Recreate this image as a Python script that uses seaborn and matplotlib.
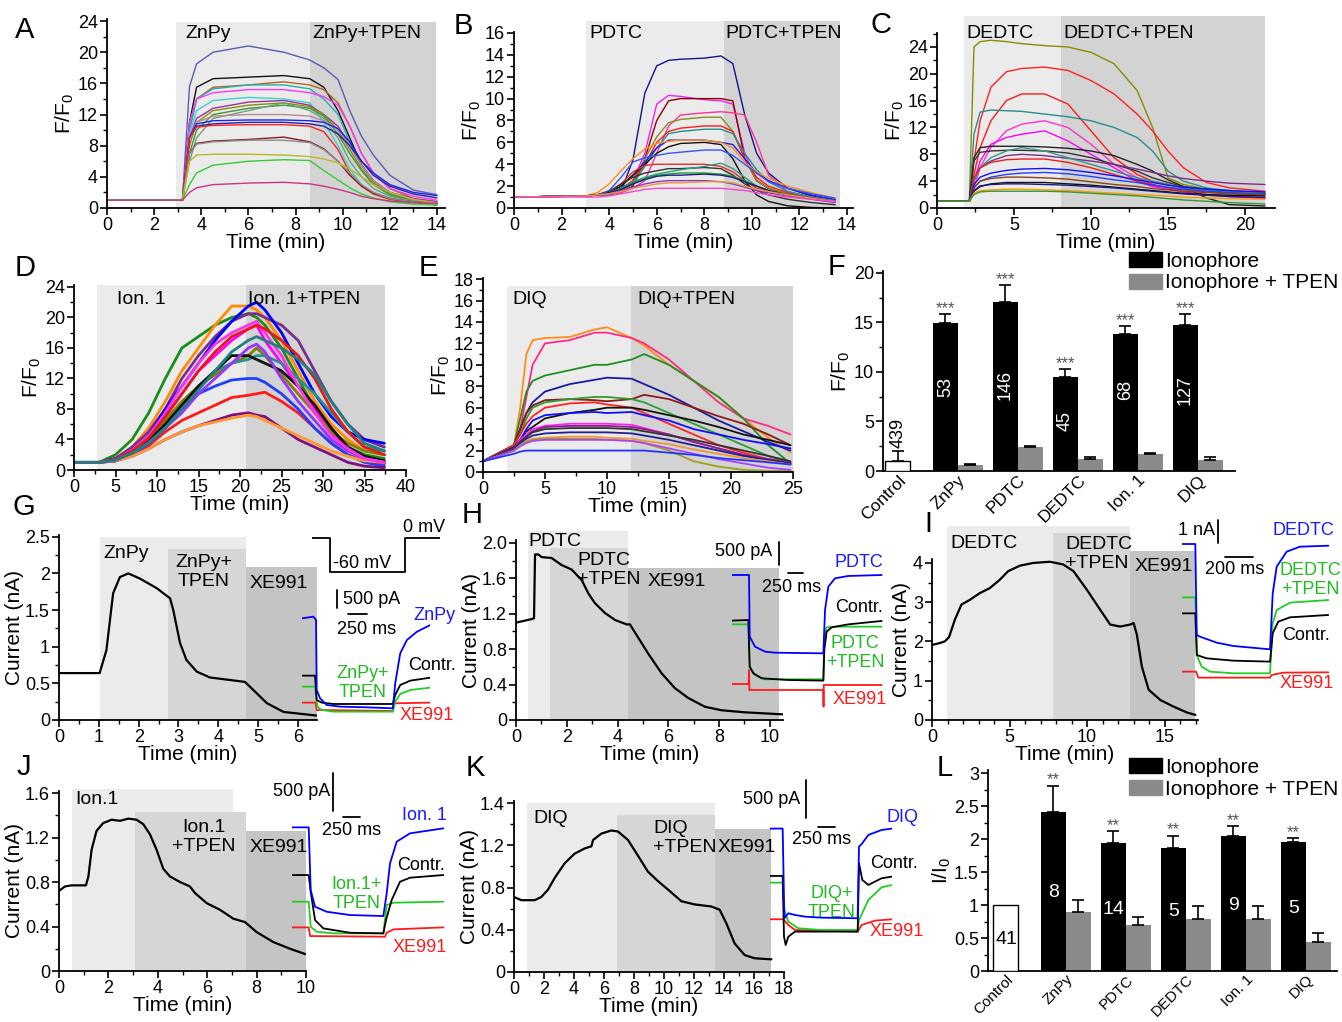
import matplotlib
matplotlib.use("Agg")
import matplotlib.pyplot as plt
from matplotlib.ticker import MultipleLocator, FormatStrFormatter
from matplotlib.patches import Patch
import numpy as np
import pandas as pd
import seaborn as sns

# ======================= DATA =======================
# ---- Panel A (ZnPy) : F/F0 traces, min ----
A_time = [0, 3.2, 3.5, 3.8, 4.5, 6, 7.5, 8.6, 9.2, 9.8, 10.3, 10.8, 11.3, 12, 13, 14]
A_colors = ['#5b5bb5', '#111111', '#b5651d', '#26b0b0', '#ff33ff', '#3dd0d0', '#993399', '#8c8c10',
            '#3a9a3a', '#6fa07a', '#bb8a8a', '#1f1fff', '#24249a', '#ff2020', '#8b1a1a', '#8c8c8c',
            '#b8b828', '#33cc33', '#cc3388']
A_traces = [
    [1, 1, 15.6, 18.5, 20, 20.8, 20.0, 19.0, 18.0, 16.5, 12.5, 9.2, 6.8, 4.2, 2.3, 1.7],
    [1, 1, 11, 15.5, 16.6, 16.8, 17.0, 16.6, 15.5, 12.5, 9, 5.5, 3.5, 1.8, 0.8, 0.4],
    [1, 1, 10, 14, 15.5, 15.8, 16.2, 15.8, 15.2, 13.5, 10.5, 7, 4.5, 2.5, 1.2, 0.8],
    [1, 1, 10, 14, 15.3, 15.8, 15.8, 15.3, 14, 12, 8.5, 5.5, 3.5, 2.0, 1.0, 0.6],
    [1, 1, 11, 14, 14.8, 15.2, 15.2, 14.8, 14.3, 13.2, 10.5, 7, 4.5, 2.5, 1.5, 1.0],
    [1, 1, 9.5, 12.5, 13.8, 14.2, 14.0, 13.5, 11, 8, 5, 3, 2, 1.3, 0.8, 0.5],
    [1, 1, 9, 11.5, 12.8, 13.6, 13.8, 13.2, 12, 10.5, 8, 5.5, 3.5, 2, 1.2, 0.8],
    [1, 1, 8, 11, 12.5, 13.2, 13.5, 13.0, 12, 10, 7.5, 5, 3.2, 1.8, 1.0, 0.6],
    [1, 1, 7, 10, 12, 12.8, 13.2, 12.8, 11.8, 9.5, 7, 4.8, 3, 1.7, 1.0, 0.6],
    [1, 1, 6, 9, 11.5, 12.5, 13.5, 12.5, 11.5, 9, 6, 4, 2.5, 1.5, 0.9, 0.5],
    [1, 1, 9, 11, 11.8, 12, 12, 11.8, 11.2, 10, 8, 5.5, 3.5, 2, 1.1, 0.7],
    [1, 1, 9, 10.8, 11.2, 11.3, 11.3, 11.2, 11, 10.2, 8.5, 6, 4.5, 3, 2.0, 1.6],
    [1, 1, 9, 10.5, 10.8, 11, 11, 10.8, 10.5, 9.5, 8, 6, 4.2, 2.8, 1.8, 1.3],
    [1, 1, 9, 10.4, 10.6, 10.7, 10.7, 10.5, 9.8, 7.5, 4.5, 2.8, 1.8, 1.1, 0.7, 0.5],
    [1, 1, 7, 8.3, 8.6, 8.8, 9.1, 8.5, 7.6, 6.0, 4.2, 2.8, 1.9, 1.2, 0.8, 0.6],
    [1, 1, 7, 8.2, 8.5, 8.7, 8.7, 8.4, 7.5, 6, 4.5, 3, 2, 1.2, 0.8, 0.5],
    [1, 1, 6, 6.8, 6.9, 6.9, 6.8, 6.6, 6.3, 5.8, 5, 4, 3, 2, 1.1, 0.6],
    [1, 1, 3, 4.5, 5.5, 6.0, 6.2, 6.1, 4.8, 3.6, 2.6, 1.8, 1.3, 0.8, 0.5, 0.4],
    [1, 1, 2, 2.6, 3.0, 3.2, 3.3, 3.1, 2.8, 2.4, 2, 1.5, 1.2, 0.9, 0.7, 0.6],
]
A_periods = [2.91, 8.63, 13.97]

# ---- Panel B (PDTC) ----
B_time = [0, 3.0, 3.5, 4.0, 4.5, 5.0, 5.5, 6.0, 6.5, 7.0, 8.0, 8.7, 9.2, 9.7, 10.2, 10.7, 11.5, 12.5, 13.5]
B_colors = ['#14148c', '#ee22ee', '#8b0000', '#ff3399', '#8c8c1a', '#ff1a1a', '#1f9090', '#1a1aff',
            '#ff8c1a', '#111111', '#3355ff', '#e62e2e', '#333333', '#2a9d8f', '#22a022', '#1a1a8c',
            '#8833cc', '#ee9933', '#ff44cc']
B_traces = [
    [1.0, 1.1, 1.2, 1.2, 1.5, 4.4, 10.5, 13, 13.5, 13.6, 13.7, 13.9, 13.2, 8.5, 5, 3.2, 1.8, 1.1, 0.7],
    [1, 1.1, 1.2, 1.3, 1.5, 2.5, 5, 9.5, 10.3, 10.2, 9.9, 9.8, 9.5, 5, 2.5, 1.8, 1.2, 0.9, 0.7],
    [1, 1.1, 1.2, 1.3, 1.4, 2, 4.5, 8, 9.8, 10, 10, 10, 9.8, 4.5, 2.5, 1.8, 1.2, 0.9, 0.6],
    [1, 1.1, 1.2, 1.3, 1.4, 1.8, 2.5, 5, 7.5, 8.5, 8.7, 8.8, 8.7, 8.5, 6, 3, 1.5, 1.0, 0.6],
    [1, 1.1, 1.2, 1.3, 1.6, 2.5, 4.5, 6.5, 7.8, 8.1, 8.3, 8.3, 7, 4.5, 2.5, 1.8, 1.3, 0.9, 0.6],
    [1, 1.1, 1.2, 1.4, 1.8, 2.5, 4, 6, 7, 7.3, 7.5, 7.5, 7, 4.5, 2.8, 2, 1.4, 1, 0.7],
    [1, 1.1, 1.2, 1.3, 1.5, 2.2, 3.8, 5.5, 6.8, 7.0, 7.2, 7.2, 6.8, 5, 3.5, 2.4, 1.5, 1.0, 0.7],
    [1, 1.1, 1.2, 1.4, 2, 3, 4.2, 5.5, 6.2, 6.2, 6.2, 6.0, 5.8, 4.5, 3.2, 2.5, 1.8, 1.2, 0.8],
    [1, 1.1, 1.4, 2.2, 3.4, 4.5, 5.4, 5.9, 6.1, 6.2, 6.2, 6.0, 5.5, 4.2, 3.3, 2.7, 2.0, 1.4, 0.9],
    [1, 1.1, 1.2, 1.4, 2, 3, 4, 5, 5.6, 5.9, 6, 5.8, 4.5, 2.5, 1.2, 0.6, 0.2, 0.05, 0],
    [1, 1.1, 1.2, 1.6, 2.8, 4.2, 4.6, 4.8, 5.0, 5.1, 5.3, 5.3, 4.8, 4.0, 3.2, 2.4, 1.8, 1.3, 0.9],
    [1, 1.1, 1.2, 1.5, 2.2, 3.3, 3.9, 4.0, 4.0, 4.0, 4.0, 3.8, 3.3, 2.5, 1.8, 1.5, 1.2, 0.9, 0.6],
    [1, 1.1, 1.2, 1.5, 2.2, 2.8, 3.2, 3.4, 3.6, 3.6, 3.7, 3.6, 3.0, 2.2, 1.6, 1.2, 0.8, 0.5, 0.3],
    [1, 1.1, 1.2, 1.4, 1.8, 2.4, 2.8, 3.1, 3.3, 3.5, 3.8, 4.1, 3.6, 2.8, 2.0, 1.6, 1.2, 0.9, 0.6],
    [1, 1.1, 1.2, 1.4, 1.8, 2.3, 2.7, 3.0, 3.1, 3.2, 3.2, 3.1, 2.9, 2.5, 2.0, 1.6, 1.2, 0.9, 0.6],
    [1, 1.1, 1.2, 1.4, 1.7, 2.2, 2.6, 2.9, 3.0, 3.0, 3.1, 3.0, 2.8, 2.4, 2.0, 1.6, 1.2, 0.9, 0.6],
    [1, 1.1, 1.2, 1.3, 1.6, 1.9, 2.2, 2.4, 2.5, 2.5, 2.5, 2.4, 2.2, 1.9, 1.6, 1.4, 1.1, 0.8, 0.5],
    [1, 1.1, 1.2, 1.3, 1.5, 1.8, 2.0, 2.2, 2.3, 2.3, 2.4, 2.4, 2.3, 2.0, 1.7, 1.5, 1.2, 0.9, 0.6],
    [1, 1.0, 1.0, 1.1, 1.3, 1.5, 1.7, 1.8, 1.8, 1.8, 1.8, 1.8, 1.7, 1.6, 1.4, 1.2, 1.0, 0.8, 0.6],
]
B_periods = [3.03, 8.82, 13.7]

# ---- Panel C (DEDTC) ----
C_time = [0, 2.1, 2.4, 2.8, 3.5, 4.5, 5.5, 7, 8.5, 10, 11.5, 13, 14, 15, 16, 17.5, 19, 21.3]
C_colors = ['#8b8b00', '#ff2020', '#ff1a1a', '#2a8d8d', '#ff33cc', '#ff00ff', '#222222', '#333333',
            '#7b2d8b', '#339988', '#ee1c1c', '#1010ff', '#2040ff', '#8b4513', '#111111', '#1a1a80',
            '#ff9900', '#339933']
C_traces = [
    [1, 1, 24, 24.8, 25, 24.8, 24.5, 24.2, 24, 23.2, 21.5, 17.5, 12, 4.5, 3.5, 2.8, 2.4, 2.0],
    [1, 1, 7, 13, 18, 20.3, 20.8, 21, 20.5, 19, 17, 14, 11.5, 8.5, 6, 3.8, 3, 2.5],
    [1, 1, 5, 9, 13, 16, 17, 17, 15.5, 11.5, 7.5, 5, 4, 3.5, 3, 2.7, 2.4, 2.2],
    [1, 1, 11, 14.3, 14.6, 14.5, 14.4, 14, 13.6, 13, 12, 10.5, 8.5, 5.5, 4, 3, 2.6, 2.2],
    [1, 1, 3, 6, 9, 11.5, 12.5, 13, 12, 9.5, 6.5, 4.5, 3.5, 3, 2.5, 2, 1.8, 1.5],
    [1, 1, 4, 7, 9.5, 10.5, 11, 11.5, 10, 8, 6, 4, 3.2, 2.8, 2.4, 2, 1.7, 1.4],
    [1, 1, 7.5, 9, 9.2, 9.2, 9.2, 9.1, 8.9, 8.5, 7.8, 6.5, 5.5, 4.2, 3.2, 1.5, 0.5, 0.3],
    [1, 1, 7, 8.3, 8.5, 8.6, 8.6, 8.5, 8.2, 7.5, 6.5, 5.5, 4.5, 3.8, 3.2, 2.8, 2.5, 2.2],
    [1, 1, 4, 6, 7, 7.8, 8, 7.8, 7.4, 7, 6.5, 5.8, 5.3, 4.8, 4.4, 4, 3.7, 3.5],
    [1, 1, 4, 6, 7.5, 8.5, 9, 8.5, 7.5, 6.5, 5.5, 4.5, 4, 3.5, 3, 2.7, 2.4, 2.2],
    [1, 1, 4.5, 6, 6.8, 7.2, 7.3, 7.3, 6.8, 6, 5, 4, 3.5, 3, 2.7, 2.4, 2.2, 2.0],
    [1, 1, 3.5, 4.6, 5.2, 5.6, 5.8, 5.9, 5.7, 5.3, 4.8, 4.2, 3.8, 3.4, 3.1, 2.8, 2.6, 2.4],
    [1, 1, 3, 4, 4.6, 5, 5.2, 5.3, 5.1, 4.7, 4.2, 3.8, 3.4, 3.1, 2.8, 2.5, 2.3, 2.1],
    [1, 1, 3, 4, 4.4, 4.6, 4.6, 4.5, 4.3, 3.9, 3.5, 3.2, 2.9, 2.7, 2.5, 2.3, 2.1, 2.0],
    [1, 1, 2.5, 3.2, 3.6, 3.8, 3.8, 3.8, 3.6, 3.4, 3.1, 2.8, 2.6, 2.4, 2.2, 2.0, 1.9, 1.8],
    [1, 1, 2.6, 3.3, 3.5, 3.6, 3.6, 3.5, 3.4, 3.2, 3, 2.7, 2.5, 2.3, 2.1, 1.9, 1.7, 1.6],
    [1, 1, 2.2, 2.6, 2.7, 2.8, 2.8, 2.7, 2.6, 2.4, 2.2, 2, 1.9, 1.8, 1.6, 1.5, 1.4, 1.3],
    [1, 1, 2, 2.4, 2.5, 2.5, 2.5, 2.5, 2.4, 2.2, 2, 1.8, 1.6, 1.4, 1.2, 1, 0.8, 0.6],
]
C_periods = [1.73, 8.06, 21.3]

# ---- Panel D (Ion. 1) ----
D_time = [0, 3, 5, 7, 9, 11, 13, 15, 17, 19, 21, 22, 23, 25, 27, 29, 31, 33, 35, 37.4]
D_colors = ['#1a8c1a', '#ff8c00', '#7b2d8b', '#0000ff', '#ff00ff', '#808000', '#2a9090', '#111111',
            '#ff1a1a', '#1f3fff', '#801080', '#ff9933', '#9933ff', '#ff33ee', '#e61919', '#208080']
D_traces = [
    [1, 1, 2, 4, 7.5, 12, 16, 17.5, 19, 20, 20.5, 20, 19, 16, 12, 8, 5, 3, 2, 1.5],
    [1, 1, 1.5, 3, 5.5, 9, 13, 16, 19, 21.5, 21.5, 21, 20, 17, 13, 9, 6, 4, 2.5, 2],
    [1, 1, 1.5, 3, 5, 8, 12, 15, 17.5, 19.5, 20.5, 20.5, 20, 19, 17, 13, 9, 6, 4, 3],
    [1, 1, 1.5, 2.5, 4.5, 8, 11, 14, 17, 19.5, 21.5, 22, 21, 18, 14, 10, 7, 5, 4, 3.5],
    [1, 1, 1.3, 2.5, 4, 7, 10, 13, 15, 17, 18.5, 19, 17, 14, 11, 8, 5, 3, 1.5, 1],
    [1, 1, 1.3, 2.3, 4, 6.5, 9, 11, 12.5, 14, 15, 16, 15, 12.5, 10, 7.5, 5, 3.5, 2.5, 2],
    [1, 1, 1.3, 2.2, 3.8, 6, 8.5, 11, 13, 14, 14.5, 15, 15, 14, 12, 10, 7.5, 5, 3, 2.5],
    [1, 1, 1.3, 2.2, 3.8, 6, 8.5, 11, 13, 15, 15, 14.5, 14, 13, 11, 8.5, 5.5, 3, 1.8, 1.2],
    [1, 1, 1.2, 2, 3.2, 5, 6.5, 7.5, 8.5, 9.5, 9.8, 10, 10.2, 9, 7.5, 5.5, 3.5, 2, 1.2, 0.8],
    [1, 1, 1.2, 2, 3.5, 5.5, 8, 10, 11, 11.8, 12, 12, 11.5, 10, 8, 5.5, 3.5, 2, 1, 0.5],
    [1, 1, 1.2, 1.8, 2.8, 4, 5, 5.8, 6.5, 7.2, 7.5, 7.2, 7, 5.5, 4, 3, 2, 1, 0.5, 0.3],
    [1, 1, 1.2, 1.8, 2.8, 4, 5, 5.8, 6.3, 6.8, 7.2, 7, 6.5, 5.5, 4.5, 3.5, 2.5, 1.8, 1.2, 1],
    [1, 1, 1.3, 2.2, 3.6, 5.5, 7.5, 10, 12, 14, 16, 16.5, 15.5, 12, 9, 6.5, 4, 2.5, 1.5, 1],
    [1, 1, 1.4, 2.6, 4.5, 7.5, 11, 14, 16.5, 18, 19, 19.5, 18, 15, 11, 7.5, 4.5, 2.8, 1.5, 1],
    [1, 1, 1.4, 2.5, 4.2, 7, 10, 13, 15.5, 17.5, 18.5, 19, 18.5, 17, 15, 12, 8, 5, 3, 2],
    [1, 1, 1.3, 2.2, 3.6, 5.5, 8, 10.5, 13, 15.5, 17, 17.5, 17, 16, 14.5, 12.5, 9, 6, 3.5, 2.5],
]
D_periods = [2.8, 20.7, 37.5]

# ---- Panel E (DIQ) ----
E_time = [0, 2.5, 3, 3.5, 4, 5, 7, 9, 10, 12, 13, 15, 17, 19, 21, 23, 24.8]
E_colors = ['#ff8c1a', '#ff2a85', '#1f8f1f', '#1a1aa0', '#8b1a1a', '#2e9e2e', '#ff2222', '#111111',
            '#1010ff', '#ff22ff', '#882288', '#333333', '#202090', '#ee9933', '#a0a020', '#aa44ff',
            '#2233ff']
E_traces = [
    [1, 2.5, 6, 11, 12.3, 12.5, 12.6, 13.3, 13.5, 12.5, 11.8, 10, 8.5, 7, 5, 3.2, 1.8],
    [1, 2.5, 4, 7, 10, 12, 12.3, 13, 13, 12.5, 12, 10.5, 8.5, 6.5, 5, 4.3, 3.5],
    [1, 2.5, 5, 7.5, 8.5, 9, 9.5, 10, 10, 10.5, 11, 10, 8.5, 7, 5, 2.5, 0.8],
    [1, 2.5, 4, 5.5, 6.5, 7.5, 8.2, 8.6, 8.8, 8.7, 8.2, 7.2, 6, 4.8, 3.8, 2.8, 2],
    [1, 2.5, 4, 5.5, 6.2, 6.7, 6.8, 6.7, 6.6, 6.8, 7.2, 6.8, 6, 5.2, 4.5, 3.5, 2.5],
    [1, 2.5, 3.5, 5, 6, 6.5, 6.8, 7, 7, 6.8, 6.5, 5.5, 4.5, 3.5, 2.5, 1.5, 0.8],
    [1, 2.5, 3.5, 4.5, 5.2, 6, 6.4, 6.5, 6.3, 6.0, 5.5, 4.5, 3.5, 2.5, 1.8, 1.2, 0.8],
    [1, 2.3, 3, 3.8, 4.2, 5, 5.5, 5.8, 6, 6, 5.8, 5.3, 4.8, 4.2, 3.5, 3, 2.5],
    [1, 2.3, 3, 4, 4.8, 5.3, 5.5, 5.6, 5.5, 5.6, 5.3, 4.8, 4, 3.5, 3, 2.6, 2.2],
    [1, 2.2, 3, 3.5, 4, 4.3, 4.5, 4.5, 4.5, 4.4, 4.1, 3.5, 2.8, 2.2, 1.6, 1.2, 0.8],
    [1, 2.2, 2.8, 3.3, 3.8, 4.2, 4.3, 4.3, 4.3, 4.2, 4.0, 3.5, 2.8, 2.2, 1.6, 1.2, 0.9],
    [1, 2.2, 2.8, 3.3, 3.7, 4, 4.1, 4.1, 4.1, 4, 3.8, 3.4, 3, 2.5, 2, 1.5, 1.0],
    [1, 2, 2.6, 3.1, 3.4, 3.6, 3.7, 3.7, 3.7, 3.6, 3.4, 3.0, 2.5, 2.0, 1.5, 1.1, 0.8],
    [1, 2, 2.5, 2.9, 3.1, 3.2, 3.3, 3.3, 3.2, 3.1, 2.9, 2.6, 2.1, 1.7, 1.3, 1.0, 0.7],
    [1, 2, 2.5, 2.8, 3, 3.1, 3.1, 3.1, 3.0, 2.9, 2.7, 2.0, 1.0, 0.5, 0.2, 0.1, 0.1],
    [1, 2, 2.4, 2.7, 2.9, 3.0, 3.0, 3.0, 3.0, 2.9, 2.7, 2.2, 1.7, 1.2, 0.8, 0.4, 0.2],
    [1, 1.7, 1.9, 2.0, 2.0, 2.0, 2.0, 2.0, 2.0, 2.0, 2.0, 1.8, 1.6, 1.3, 1.1, 0.9, 0.7],
]
E_periods = [1.97, 11.94, 25.0]

# ---- Panel F : F/F0 summary ----
bar_groups = ['ZnPy', 'PDTC', 'DEDTC', 'Ion. 1', 'DIQ']
F_iono = [14.93, 17.1, 9.53, 13.8, 14.76]
F_iono_err = [0.97, 1.7, 0.81, 0.8, 1.12]
F_tpen = [0.57, 2.4, 1.25, 1.72, 1.15]
F_tpen_err = [0.11, 0.13, 0.2, 0.14, 0.3]
F_control, F_control_err = 1.01, 1.02
F_n = ['53', '146', '45', '68', '127']
F_control_n = '439'

# ---- Panel L : I/I0 summary ----
L_iono = [2.41, 1.94, 1.87, 2.05, 1.95]
L_iono_err = [0.40, 0.18, 0.18, 0.14, 0.06]
L_tpen = [0.89, 0.69, 0.79, 0.79, 0.44]
L_tpen_err = [0.18, 0.13, 0.19, 0.20, 0.14]
L_control = 1.0
L_n = ['8', '14', '5', '9', '5']
L_control_n = '41'

# ---- Panels G-K : whole-cell current (nA) vs time (min) ----
G_time = [0, 1.02, 1.19, 1.36, 1.53, 1.74, 2.03, 2.45, 2.79, 2.87, 3.04, 3.2, 3.46, 3.79, 4.38, 4.67,
          4.88, 5.22, 5.64, 6.48]
G_curr = [0.64, 0.64, 0.95, 1.73, 1.95, 2.0, 1.93, 1.80, 1.66, 1.5, 1.05, 0.82, 0.66, 0.58, 0.54, 0.52,
          0.41, 0.23, 0.11, 0.06]
G_periods = [(1.03, 4.70, 2.5), (2.74, 4.70, 2.33), (4.70, 6.48, 2.09)]

H_time = [0, 0.62, 0.71, 0.75, 0.88, 1.01, 1.40, 1.80, 2.19, 2.59, 2.85, 3.11, 3.50, 3.90, 4.36, 4.49,
          4.75, 5.21, 5.73, 6.26, 6.78, 7.44, 8.1, 9.0, 10.5]
H_curr = [1.10, 1.14, 1.15, 1.87, 1.87, 1.84, 1.83, 1.75, 1.70, 1.58, 1.43, 1.32, 1.21, 1.13, 1.08, 1.08,
          0.96, 0.75, 0.53, 0.36, 0.25, 0.15, 0.11, 0.087, 0.064]
H_periods = [(0.46, 4.42, 2.14), (1.34, 4.42, 1.94), (4.42, 10.35, 1.72)]

I_time = [0, 0.5, 0.82, 1.1, 1.47, 1.9, 2.44, 3.08, 3.73, 4.37, 4.91, 5.67, 6.53, 7.61, 8.47, 9.12,
          9.98, 10.84, 11.49, 12.13, 12.78, 13.0, 13.21, 13.53, 13.97, 14.72, 15.58, 16.44, 16.98]
I_curr = [1.91, 1.96, 2.0, 2.11, 2.55, 2.94, 3.06, 3.23, 3.36, 3.57, 3.79, 3.93, 4.0, 4.03, 3.96, 3.79,
          3.32, 2.81, 2.43, 2.38, 2.43, 2.47, 2.17, 1.36, 0.77, 0.51, 0.34, 0.19, 0.13]
I_periods = [(0.99, 12.78, 4.94), (7.82, 12.78, 4.75), (12.78, 16.98, 4.30)]

J_time = [0, 0.24, 0.51, 0.85, 1.09, 1.19, 1.32, 1.52, 1.79, 2.13, 2.47, 2.81, 3.14, 3.41, 3.68, 3.95,
          4.22, 4.49, 4.90, 5.30, 5.51, 5.98, 6.52, 7.06, 7.53, 8.0, 8.68, 9.35, 10.0]
J_curr = [0.72, 0.76, 0.77, 0.77, 0.77, 0.85, 1.09, 1.26, 1.33, 1.36, 1.35, 1.37, 1.36, 1.32, 1.23, 1.09,
          0.92, 0.85, 0.80, 0.76, 0.70, 0.61, 0.55, 0.47, 0.44, 0.35, 0.26, 0.20, 0.15]
J_periods = [(0.54, 7.06, 1.64), (3.08, 7.57, 1.43), (7.57, 10.0, 1.26)]

K_time = [0, 0.49, 1.38, 1.82, 2.27, 2.71, 3.38, 4.04, 4.71, 5.16, 5.27, 5.82, 6.49, 6.93, 7.6, 8.27,
          8.93, 9.6, 10.27, 11.16, 12.04, 13.16, 13.71, 14.16, 14.71, 15.38, 16.04, 17.16]
K_curr = [0.71, 0.68, 0.68, 0.71, 0.78, 0.89, 1.03, 1.12, 1.17, 1.19, 1.25, 1.31, 1.34, 1.33, 1.25, 1.10,
          0.95, 0.86, 0.78, 0.67, 0.64, 0.62, 0.59, 0.46, 0.27, 0.16, 0.13, 0.12]
K_periods = [(0.89, 13.38, 1.60), (6.87, 13.38, 1.49), (13.38, 17.16, 1.35)]

# ---- Insets: current responses to a -60 mV step, (ms, pA) points ----
G_ZnPy = [(-195, 2163), (-36, 2209), (0, 2118), (9, 209), (55, -18), (145, -200), (327, -245), (691, -264),
          (1045, -291), (1077, 391), (1145, 1209), (1236, 1573), (1373, 1800), (1555, 1982)]
G_Contr = [(-195, 600), (-14, 600), (9, -64), (77, -136), (236, -173), (1045, -173), (1077, 73),
           (1145, 345), (1282, 464), (1555, 545)]
G_TPEN = [(-195, 300), (-14, 300), (18, -245), (77, -336), (236, -382), (1045, -382), (1077, -109),
          (1145, 100), (1282, 209), (1555, 273)]
G_XE991 = [(-195, -136), (-5, -136), (9, -336), (1045, -364), (1064, -155), (1555, -136)]
G_proto_ms = [-250, 0, 0, 1020, 1020, 1500]
G_proto_mV = [0, 0, -60, -60, 0, 0]

H_PDTC = [(-289, 2078), (0, 2078), (11, 757), (100, 543), (267, 436), (434, 414), (1240, 400), (1268, 1328),
          (1323, 1828), (1434, 2007), (1657, 2057), (2213, 2078)]
H_Contr = [(-289, 1100), (-11, 1114), (11, 115), (72, -28), (211, -135), (656, -171), (1240, -185),
           (1256, 472), (1295, 864), (1379, 957), (1657, 1021), (2213, 1093)]
H_TPEN = [(-289, 1021), (-11, 1021), (11, 115), (100, -64), (267, -157), (1240, -157), (1256, 757),
          (1295, 957), (1434, 971), (2213, 971)]
H_XE991 = [(-289, -257), (-6, -257), (0, 43), (6, -385), (1240, -385), (1243, -742), (1246, -278),
           (2213, -278)]

I_DEDTC = [(-101, 5672), (-5, 5672), (5, 1771), (28, 1700), (146, 1443), (263, 1300), (522, 1157),
           (541, 3557), (569, 4700), (639, 5343), (733, 5557), (933, 5600)]
I_Contr = [(-101, 2700), (-5, 2700), (5, 914), (75, 771), (263, 671), (522, 629), (541, 1843), (580, 2343),
           (663, 2529), (933, 2629)]
I_TPEN = [(-101, 3386), (-5, 3386), (9, 843), (40, 414), (99, 200), (263, 129), (522, 129), (541, 2271),
          (569, 2843), (663, 3157), (933, 3271)]
I_XE991 = [(-101, 200), (0, 200), (16, -57), (522, -57), (533, 57), (616, 157), (933, 171)]

J_Ion1 = [(-265, 1492), (-10, 1492), (20, 674), (85, 457), (260, 391), (610, 348), (1110, 335), (1160, 631),
          (1210, 1022), (1310, 1305), (1510, 1414), (2010, 1479)]
J_Contr = [(-265, 870), (-10, 870), (20, 652), (85, 283), (210, 174), (610, 117), (1110, 109), (1150, 283),
           (1235, 544), (1360, 783), (1510, 835), (2010, 870)]
J_TPEN = [(-265, 522), (-10, 522), (20, 196), (110, 130), (360, 109), (1110, 109), (1160, 478),
          (1260, 509), (2010, 522)]
J_XE991 = [(-265, 187), (-10, 187), (10, 74), (1135, 65), (1160, 117), (1260, 161), (2010, 187)]

K_DIQ = [(-200, 1528), (-10, 1528), (15, 358), (75, 423), (175, 401), (325, 379), (575, 366), (1115, 358),
         (1135, 1293), (1175, 1326), (1275, 1445), (1475, 1510), (1630, 1528)]
K_Contr = [(-200, 910), (-10, 910), (10, 118), (35, 9), (75, 118), (175, 184), (1115, 184), (1135, 1075),
           (1185, 858), (1275, 793), (1475, 880), (1630, 901)]
K_TPEN = [(-200, 823), (-10, 823), (15, 466), (75, 314), (225, 227), (575, 205), (1115, 205), (1135, 336),
          (1275, 597), (1475, 762), (1630, 792)]
K_XE991 = [(-200, 345), (0, 345), (75, 271), (175, 205), (1115, 184), (1175, 271), (1375, 327), (1630, 345)]

# ======================= STYLE / LAYOUT =======================
sns.set_theme(style="ticks", rc={"axes.edgecolor": "black", "xtick.color": "black",
                                 "ytick.color": "black", "text.color": "black",
                                 "axes.labelcolor": "black"})
plt.rcParams['font.family'] = ['Liberation Sans', 'DejaVu Sans']
plt.rcParams['mathtext.fontset'] = 'custom'
plt.rcParams['mathtext.rm'] = 'Liberation Sans'
plt.rcParams['mathtext.it'] = 'Liberation Sans:italic'
plt.rcParams['mathtext.bf'] = 'Liberation Sans:bold'
plt.rcParams['axes.unicode_minus'] = False

W, H = 1342, 1022
fig = plt.figure(figsize=(W / 100, H / 100), dpi=100)
fig.patch.set_facecolor('white')

LIGHT, MID, DARK = '#ebebeb', '#d6d6d6', '#c4c4c4'
BLUE, GREEN, RED = '#1a1aff', '#22bb22', '#ff1a1a'
FFLABEL = r'F/F$_\mathregular{0}$'


def px_axes(x0, x1, ytop, ybot, z=1):
    ax = fig.add_axes([x0 / W, 1 - ybot / H, (x1 - x0) / W, (ybot - ytop) / H], zorder=z)
    ax.patch.set_alpha(0)
    return ax


def ftext(x, y, s, **kw):
    kw.setdefault('ha', 'left')
    kw.setdefault('va', 'center')
    kw.setdefault('fontsize', 14)
    fig.text(x / W, 1 - y / H, s, **kw)


def trace(ax, t, v, color, lw):
    sns.lineplot(x=list(t), y=list(v), color=color, linewidth=lw, ax=ax,
                 estimator=None, sort=False, legend=False)


def style_axes(ax, xlim, ylim, xmaj, xmin, ymaj, ymin, xlabel, ylabel):
    ax.set_xlim(*xlim)
    ax.set_ylim(*ylim)
    for s in ['top', 'right']:
        ax.spines[s].set_visible(False)
    for s in ['left', 'bottom']:
        ax.spines[s].set_linewidth(1.3)
    if xmaj:
        ax.xaxis.set_major_locator(MultipleLocator(xmaj))
        ax.xaxis.set_minor_locator(MultipleLocator(xmin))
        ax.xaxis.set_major_formatter(FormatStrFormatter('%g'))
    ax.yaxis.set_major_locator(MultipleLocator(ymaj))
    ax.yaxis.set_minor_locator(MultipleLocator(ymin))
    ax.yaxis.set_major_formatter(FormatStrFormatter('%g'))
    ax.tick_params(which='major', direction='out', length=5, width=1.2, labelsize=13, pad=1.5)
    ax.tick_params(which='minor', direction='out', length=3, width=1.0)
    ax.set_xlabel(xlabel, fontsize=15, labelpad=-1)
    ax.set_ylabel(ylabel, fontsize=15, labelpad=1)


def shade(ax, x0, x1, top, color):
    ax.fill_between([x0, x1], [0, 0], [top, top], color=color, lw=0, zorder=0, clip_on=False)


# ---------- fluorescence panels A-E ----------
def fluo_panel(rect, time, traces, colors, periods, top, lw, xlim, ylim, xt, yt, labels):
    ax = px_axes(*rect)
    shade(ax, periods[0], periods[1], top, LIGHT)
    shade(ax, periods[1], periods[2], top, '#d3d3d3')
    for vals, c in zip(traces, colors):
        trace(ax, time, vals, c, lw)
    style_axes(ax, xlim, ylim, xt[0], xt[1], yt[0], yt[1], 'Time (min)', FFLABEL)
    for (x, y, s) in labels:
        ftext(x, y, s)
    return ax


fluo_panel((107, 445, 19.5, 208), A_time, A_traces, A_colors, A_periods, 23.9, 1.0,
           (0, 14.34), (0, 24.2), (2, 1), (4, 2), [(185, 33, 'ZnPy'), (312, 33, 'ZnPy+TPEN')])
fluo_panel((514, 853, 31.9, 208), B_time, B_traces, B_colors, B_periods, 17.07, 1.0,
           (0, 14.25), (0, 16.1), (2, 1), (2, 1), [(589, 33, 'PDTC'), (725, 33, 'PDTC+TPEN')])
fluo_panel((937, 1275, 32.9, 208), C_time, C_traces, C_colors, C_periods, 28.6, 1.0,
           (0, 21.95), (0, 26.1), (5, 2.5), (4, 2), [(966, 33, 'DEDTC'), (1063, 33, 'DEDTC+TPEN')])
fluo_panel((74, 406, 284.7, 470), D_time, D_traces, D_colors, D_periods, 24.2, 2.0,
           (0, 40), (0, 24.3), (5, 2.5), (4, 2), [(117, 299, 'Ion. 1'), (248, 299, 'Ion. 1+TPEN')])
fluo_panel((483, 793, 278, 472), E_time, E_traces, E_colors, E_periods, 17.4, 1.3,
           (0, 25), (0, 18.1), (5, 2.5), (2, 1), [(512, 300, 'DIQ'), (637, 300, 'DIQ+TPEN')])


# ---------- bar panels F and L ----------
def bar_panel(rect, xlim, ylim, ymaj, ymin, iono, iono_err, tpen, tpen_err, ctrl, ctrl_err,
              ylabel, stars, star_off, n_labels, n_y, n_rot, n_size, ctrl_n, ctrl_n_y, ctrl_rot, legend_xy,
              xlab_size):
    ax = px_axes(*rect)
    df = pd.DataFrame({'cat': bar_groups * 2,
                       'cond': ['Ionophore'] * 5 + ['Ionophore + TPEN'] * 5,
                       'val': list(iono) + list(tpen)})
    order = ['Control'] + bar_groups
    sns.barplot(data=df, x='cat', y='val', hue='cond', order=order,
                hue_order=['Ionophore', 'Ionophore + TPEN'], palette=['black', '#8a8a8a'],
                width=0.834, gap=0, errorbar=None, legend=False, saturation=1, linewidth=0, ax=ax)
    ax.bar(0, ctrl, width=0.417, color='white', edgecolor='black', linewidth=1.0, zorder=3)
    pos = np.arange(1, 6)
    ax.errorbar(pos - 0.2085, iono, yerr=[np.zeros(5), iono_err], fmt='none', ecolor='black',
                elinewidth=1.2, capsize=4, capthick=1.2, zorder=4)
    ax.errorbar(pos + 0.2085, tpen, yerr=[np.zeros(5), tpen_err], fmt='none', ecolor='black',
                elinewidth=1.2, capsize=4, capthick=1.2, zorder=4)
    if ctrl_err:
        ax.errorbar([0], [ctrl], yerr=[[0], [ctrl_err]], fmt='none', ecolor='black',
                    elinewidth=1.2, capsize=4, capthick=1.2, zorder=4)
    for i in range(5):
        ax.text(pos[i] - 0.2085, iono[i] + iono_err[i] + star_off, stars, ha='center', va='center',
                fontsize=12, color='#555555')
        ax.text(pos[i] - 0.2085, n_y[i], n_labels[i], ha='center', va='center', color='white',
                fontsize=n_size, rotation=n_rot, zorder=5)
    ax.text(0, ctrl_n_y, ctrl_n, ha='center', va='center', color='black', fontsize=n_size,
            rotation=ctrl_rot, zorder=5)
    style_axes(ax, xlim, ylim, None, None, ymaj, ymin, '', ylabel)
    ax.set_xticks(range(6))
    ax.set_xticklabels(order, rotation=45, ha='right', rotation_mode='anchor', fontsize=xlab_size)
    ax.tick_params(axis='x', length=0, pad=1)
    handles = [Patch(facecolor='black', edgecolor='black'), Patch(facecolor='#8a8a8a', edgecolor='#8a8a8a')]
    ax.legend(handles, ['Ionophore', 'Ionophore + TPEN'], loc='upper left',
              bbox_to_anchor=(legend_xy[0] / W, 1 - legend_xy[1] / H), bbox_transform=fig.transFigure,
              frameon=False, fontsize=15, handlelength=1.6, handleheight=0.75, handletextpad=0.15,
              labelspacing=0.12, borderaxespad=0, borderpad=0)
    return ax


bar_panel((883, 1235, 271, 471), (-0.25, 5.62), (0, 20.2), 5, 2.5, F_iono, F_iono_err, F_tpen, F_tpen_err,
          F_control, F_control_err, FFLABEL, '***', 0.55, F_n, [8.5, 8.7, 5.1, 8.2, 8.2], 90, 13,
          F_control_n, 3.8, 90, (1129, 252), 12.5)
bar_panel((988, 1337, 769.7, 971), (-0.3, 5.52), (0, 3.05), 0.5, 0.25, L_iono, L_iono_err, L_tpen, L_tpen_err,
          L_control, None, r'I/I$_\mathregular{0}$', '**', 0.09, L_n, [1.19, 0.93, 0.90, 0.99, 0.95], 0, 14,
          L_control_n, 0.47, 0, (1129, 758), 11)


# ---------- current panels G-K ----------
def current_panel(rect, time, curr, periods, xlim, ylim, xt, yt, yticklabels, labels):
    ax = px_axes(*rect)
    for (x0, x1, top), c in zip(periods, [LIGHT, MID, DARK]):
        shade(ax, x0, x1, top, c)
    trace(ax, time, curr, 'black', 1.6)
    style_axes(ax, xlim, ylim, xt[0], xt[1], yt[0], yt[1], 'Time (min)', 'Current (nA)')
    if yticklabels is not None:
        ax.set_yticks(yticklabels[0])
        ax.set_yticklabels(yticklabels[1])
    for (x, y, s, ha) in labels:
        ftext(x, y, s, ha=ha, linespacing=1.15)
    return ax


current_panel((59, 317, 535.3, 720), G_time, G_curr, G_periods, (0, 6.48), (0, 2.52), (1, 0.5), (0.5, 0.25), None,
              [(103, 553, 'ZnPy', 'left'), (204, 572, 'ZnPy+\nTPEN', 'center'), (250, 583, 'XE991', 'left')])
current_panel((516, 783, 540.3, 720), H_time, H_curr, H_periods, (0, 10.52), (0, 2.03), (2, 1), (0.4, 0.2),
              ([0, 0.4, 0.8, 1.2, 1.6, 2.0], ['0', '0.4', '0.8', '1.2', '1.6', '2.0']),
              [(528, 541, 'PDTC', 'left'), (577, 570, 'PDTC\n+TPEN', 'left'), (648, 581, 'XE991', 'left')])
current_panel((932, 1198, 559, 720), I_time, I_curr, I_periods, (0, 17.15), (0, 4.1), (5, 1), (1, 0.5), None,
              [(950, 543, 'DEDTC', 'left'), (1065, 554, 'DEDTC\n+TPEN', 'left'), (1135, 566, 'XE991', 'left')])
current_panel((59, 306, 790.8, 971), J_time, J_curr, J_periods, (0, 10.0), (0, 1.62), (2, 1), (0.4, 0.2), None,
              [(75, 800, 'Ion.1', 'left'), (204, 837, 'Ion.1\n+TPEN', 'center'), (250, 847, 'XE991', 'left')])
current_panel((514, 784, 800.9, 972), K_time, K_curr, K_periods, (0, 18), (0, 1.62), (2, 1), (0.4, 0.2),
              ([0, 0.4, 0.8, 1.2, 1.6], ['0', '0.4', '0.8', '1.2', '1.4']),
              [(533, 818, 'DIQ', 'left'), (653, 838, 'DIQ\n+TPEN', 'left'), (718, 848, 'XE991', 'left')])


# ---------- insets ----------
def inset(rect, xlim, ylim, traces, vbar, hbar, vlen, hlen):
    ax = px_axes(*rect, z=5)
    for pts, c in traces:
        t, i = zip(*pts)
        trace(ax, t, i, c, 1.3)
    ax.set_xlim(*xlim)
    ax.set_ylim(*ylim)
    ax.set_axis_off()
    ax.plot([vbar[0], vbar[0]], [vbar[1], vbar[1] + vlen], color='black', lw=1.3, clip_on=False)
    ax.plot([hbar[0], hbar[0] + hlen], [hbar[1], hbar[1]], color='black', lw=1.3, clip_on=False)
    return ax


inset((301.7, 430, 610, 723.3), (-195, 1550), (-700, 2391),
      [(G_XE991, RED), (G_TPEN, '#22cc22'), (G_Contr, 'black'), (G_ZnPy, '#0000ff')],
      (286, 2436), (441, 2282), 500, 250)
pax = px_axes(311.7, 440, 532.7, 577.3, z=5)
trace(pax, G_proto_ms, G_proto_mV, 'black', 1.3)
pax.set_xlim(-250, 1500)
pax.set_ylim(-70, 10)
pax.set_axis_off()
ftext(424, 527, '0 mV', ha='center', fontsize=13)
ftext(362, 563, '-60 mV', ha='center', fontsize=13)
ftext(343, 599, '500 pA', fontsize=13)
ftext(367, 629, '250 ms', ha='center', fontsize=13)
ftext(413, 615, 'ZnPy', color=BLUE, fontsize=13)
ftext(408, 665, 'Contr.', fontsize=13)
ftext(363, 683, 'ZnPy+\nTPEN', ha='center', color=GREEN, fontsize=13, linespacing=1.15)
ftext(400, 715, 'XE991', color=RED, fontsize=13)

inset((731.7, 883.3, 570, 710), (-289, 2240), (-814, 2185),
      [(H_XE991, RED), (H_TPEN, '#22cc22'), (H_Contr, 'black'), (H_PDTC, '#0000ff')],
      (500, 2292), (656, 2128), 500, 250)
ftext(772, 551, '500 pA', ha='right', fontsize=13)
ftext(792, 588, '250 ms', ha='center', fontsize=13)
ftext(835, 562, 'PDTC', color=BLUE, fontsize=13)
ftext(835, 608, 'Contr.', fontsize=13)
ftext(855, 653, 'PDTC\n+TPEN', ha='center', color=GREEN, fontsize=13, linespacing=1.15)
ftext(833, 699, 'XE991', color=RED, fontsize=13)

inset((1181.7, 1330, 540, 690), (-101, 945), (-587, 5844),
      [(I_XE991, RED), (I_TPEN, '#22cc22'), (I_Contr, 'black'), (I_DEDTC, '#0000ff')],
      (157, 5701), (204, 5129), 1000, 200)
ftext(1215, 530, '1 nA', ha='right', fontsize=13)
ftext(1235, 569, '200 ms', ha='center', fontsize=13)
ftext(1272, 530, 'DEDTC', color=BLUE, fontsize=13)
ftext(1310, 580, 'DEDTC\n+TPEN', ha='center', color=GREEN, fontsize=13, linespacing=1.15)
ftext(1282, 636, 'Contr.', fontsize=13)
ftext(1280, 683, 'XE991', color=RED, fontsize=13)

inset((291.7, 445, 820, 946.7), (-265, 2035), (-65, 1588),
      [(J_XE991, RED), (J_TPEN, '#22cc22'), (J_Contr, 'black'), (J_Ion1, '#0000ff')],
      (360, 1705), (510, 1631), 500, 250)
ftext(330, 792, '500 pA', ha='right', fontsize=13)
ftext(352, 830, '250 ms', ha='center', fontsize=13)
ftext(402, 815, 'Ion. 1', color=BLUE, fontsize=13)
ftext(397, 865, 'Contr.', fontsize=13)
ftext(357, 894, 'Ion.1+\nTPEN', ha='center', color=GREEN, fontsize=13, linespacing=1.15)
ftext(393, 948, 'XE991', color=RED, fontsize=13)

inset((770, 892, 823.3, 950), (-200, 1630), (-56, 1597),
      [(K_XE991, RED), (K_TPEN, '#22cc22'), (K_Contr, 'black'), (K_DIQ, '#0000ff')],
      (335, 1663), (525, 1545), 500, 250)
ftext(800, 800, '500 pA', ha='right', fontsize=13)
ftext(822, 840, '250 ms', ha='center', fontsize=13)
ftext(886, 817, 'DIQ', color=BLUE, fontsize=13)
ftext(870, 863, 'Contr.', fontsize=13)
ftext(832, 903, 'DIQ+\nTPEN', ha='center', color=GREEN, fontsize=13, linespacing=1.15)
ftext(870, 932, 'XE991', color=RED, fontsize=13)

# ---------- panel letters ----------
for (x, y, s) in [(25, 30, 'A'), (463, 26, 'B'), (881, 25, 'C'), (25, 268, 'D'), (428, 268, 'E'),
                  (836, 267, 'F'), (24, 507, 'G'), (472, 515, 'H'), (928, 524, 'I'), (24, 767, 'J'),
                  (475, 768, 'K'), (945, 768, 'L')]:
    ftext(x, y, s, ha='center', fontsize=21)

fig.savefig('out.png', dpi=100, facecolor='white')
